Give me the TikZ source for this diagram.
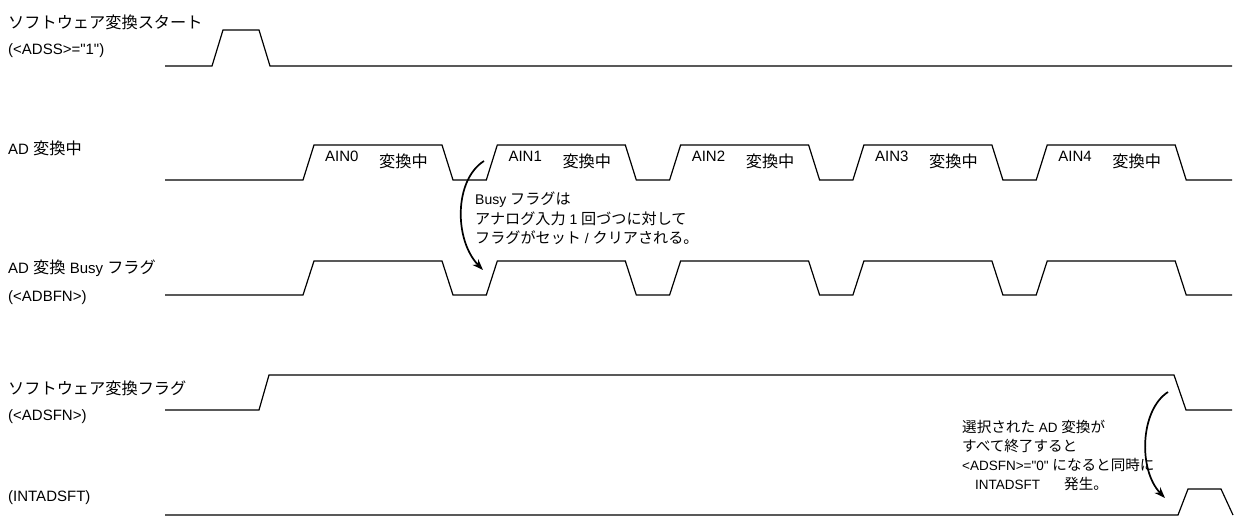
\documentclass[tikz,border=0pt]{standalone}
\usepackage{fontspec}
\setmainfont{Liberation Sans}
\newfontfamily\jpfont[Scale=1.08]{Noto Sans CJK JP}
\newcommand{\jp}[1]{{\jpfont #1}}
\newcommand{\dq}{\textquotedbl}
\usetikzlibrary{arrows.meta}

\tikzset{
 wave/.style={line width=1.2pt, line join=miter},
 signame/.style={anchor=west, inner sep=0pt, font=\fontsize{15}{17}\selectfont},
 note/.style={anchor=west, inner sep=0pt, font=\fontsize{14}{16}\selectfont},
 endnote/.style={anchor=west, inner sep=0pt, font=\fontsize{13.5}{15}\selectfont},
 bend arrow/.style={line width=1.7pt, -{Stealth[length=11pt,width=8pt]}}
}

\begin{document}
\begin{tikzpicture}[x=1pt,y=-1pt]
 \useasboundingbox (0,0) rectangle (1234,525);

 \node[signame] (lblstart) at (8,22) {\jp{ソフトウェア変換スタート}};
 \node[signame] (lbladss) at (8,51) {(<ADSS>=\dq 1\dq)};
 \node[signame] (lblconv) at (8,148) {AD \jp{変換中}};
 \node[signame] (lblbusy) at (8,268) {AD \jp{変換} Busy \jp{フラグ}};
 \node[signame] (lbladbfn) at (8,298) {(<ADBFN>)};
 \node[signame] (lblsflag) at (8,388) {\jp{ソフトウェア変換フラグ}};
 \node[signame] (lbladsfn) at (8,417) {(<ADSFN>)};
 \node[signame] (lblint) at (8,498) {(INTADSFT)};

 \draw[wave] (165,66) -- (212,66) -- (223,30) -- (259,30) -- (270,66) -- (1232,66);

 \draw[wave] (165,180) \foreach \s in {303,486.3,669.6,852.9,1036.2} {
   -- (\s,180) -- (\s+11,145) -- (\s+139,145) -- (\s+150,180) } -- (1232,180);
 \foreach \s [count=\i from 0] in {303,486.3,669.6,852.9,1036.2} {
   \node[signame] (ain\i) at (\s+22,156) {AIN\i};
   \node[signame] (busy\i) at (\s+76,161) {\jp{変換中}};
 }

 \draw[wave] (165,295) \foreach \s in {303,486.3,669.6,852.9,1036.2} {
   -- (\s,295) -- (\s+11,261) -- (\s+139,261) -- (\s+150,295) } -- (1232,295);

 \draw[wave] (165,410) -- (259,410) -- (269,375) -- (1174,375) -- (1186,410) -- (1232,410);

 \draw[wave] (165,515) -- (1178,515) -- (1188,489) -- (1221,489) -- (1233,515);

 \node[note] (busynote1) at (475,200) {Busy \jp{フラグは}};
 \node[note] (busynote2) at (475,219) {\jp{アナログ入力} 1 \jp{回づつに対して}};
 \node[note] (busynote3) at (475,238) {\jp{フラグがセット} / \jp{クリアされる。}};

 \node[endnote] (endnote1) at (962,427) {\jp{選択された} AD \jp{変換が}};
 \node[endnote] (endnote2) at (962,446) {\jp{すべて終了すると}};
 \node[endnote] (endnote3) at (962,465) {<ADSFN>=\dq 0\dq{} \jp{になると同時に}};
 \node[endnote] (endnote4) at (975,484) {INTADSFT\hspace{24pt}\jp{発生。}};

 \coordinate (busyfrom) at (484,161);
 \coordinate (busyto) at (483,270);
 \draw[bend arrow] (busyfrom) .. controls (454,180) and (454,240) .. (busyto);

 \coordinate (endfrom) at (1168,392);
 \coordinate (endto) at (1165,498);
 \draw[bend arrow] (endfrom) .. controls (1140,410) and (1138,470) .. (endto);
\end{tikzpicture}
\end{document}
